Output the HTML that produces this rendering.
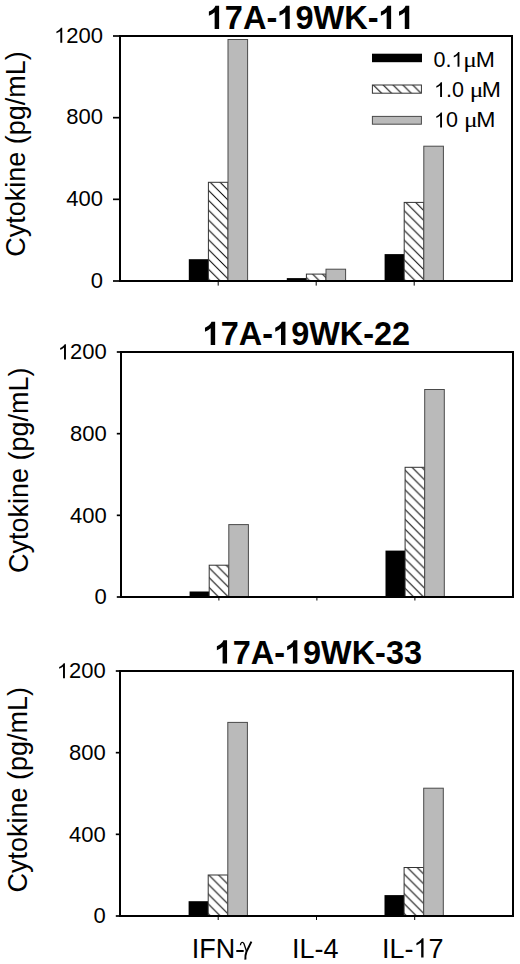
<!DOCTYPE html>
<html>
<head>
<meta charset="utf-8">
<style>
html,body{margin:0;padding:0;background:#fff;width:520px;height:964px;overflow:hidden;}
svg{display:block;}
text{font-family:"Liberation Sans",sans-serif;fill:#000;font-kerning:none;}
.t{font-weight:bold;font-size:32.6px;}
.t2{font-weight:bold;font-size:32.45px;}
.tk{font-size:22px;text-anchor:end;}
.yl{font-size:27px;}
.xl{font-size:27px;}
.lg{font-size:21.5px;}
.g{font-family:"Liberation Serif",serif;font-size:21.5px;}
.ax{fill:none;stroke:#000;stroke-width:2;}
.tick{stroke:#000;stroke-width:1.7;}
.xt{stroke:#000;stroke-width:1;}
.bk{fill:#000;}
.gr{fill:#bababa;stroke:#4a4a4a;stroke-width:1;}
.ht{fill:url(#hatch);stroke:#333;stroke-width:1;}
</style>
</head>
<body>
<svg width="520" height="964" viewBox="0 0 520 964">
<defs>
<pattern id="hatch" patternUnits="userSpaceOnUse" width="9.85" height="9.85">
<rect width="9.85" height="9.85" fill="#fff"/>
<path d="M-2,-2 L11.85,11.85 M-2,7.85 L2,11.85 M7.85,-2 L11.85,2" stroke="#000" stroke-width="1.0"/>
</pattern>
</defs>
<g transform="matrix(1,0,0,1.0412,0,-1.199)"><text class="t" x="224.82 242.95 266.47 295.45 313.57 344.34 367.86" y="29.10" style="text-anchor:start">7A-9WK-</text><path d="M780 0H499V1059Q345 915 137 846V1101Q246 1137 374 1236T550 1466H780V0Z" transform="matrix(0.015918,0,0,-0.015288,206.70,29.10)"/><path d="M780 0H499V1059Q345 915 137 846V1101Q246 1137 374 1236T550 1466H780V0Z" transform="matrix(0.015918,0,0,-0.015288,277.32,29.10)"/><path d="M780 0H499V1059Q345 915 137 846V1101Q246 1137 374 1236T550 1466H780V0Z" transform="matrix(0.015918,0,0,-0.015288,378.71,29.10)"/><path d="M780 0H499V1059Q345 915 137 846V1101Q246 1137 374 1236T550 1466H780V0Z" transform="matrix(0.015918,0,0,-0.015288,396.84,29.10)"/></g>
<text class="yl" transform="translate(25.3,256.8) rotate(-90) scale(1,1.0412)">Cytokine (pg/mL)</text>
<line class="tick" x1="113" y1="36.00" x2="120" y2="36.00"/>
<text class="tk" x="66.28 78.52 90.75" y="42.80" style="text-anchor:start">200</text><path d="M763 0H583V1147Q518 1085 412.5 1023T223 930V1104Q373 1175 485.5 1276T645 1472H763V0Z" transform="matrix(0.010742,0,0,-0.010282,54.05,42.80)"/>
<line class="tick" x1="113" y1="117.67" x2="120" y2="117.67"/>
<text class="tk" x="103" y="124.47">800</text>
<line class="tick" x1="113" y1="199.33" x2="120" y2="199.33"/>
<text class="tk" x="103" y="206.13">400</text>
<line class="tick" x1="113" y1="281.00" x2="120" y2="281.00"/>
<text class="tk" x="103" y="287.80">0</text>
<line class="xt" x1="218.2" y1="281" x2="218.2" y2="285.6"/>
<line class="xt" x1="316.2" y1="281" x2="316.2" y2="285.6"/>
<line class="xt" x1="414.2" y1="281" x2="414.2" y2="285.6"/>
<rect class="bk" x="188.80" y="259.20" width="19.6" height="21.80"/>
<g transform="translate(18.10,0)"><rect class="ht" x="190.30" y="182.30" width="19.60" height="98.70"/></g>
<rect class="gr" x="228.00" y="39.50" width="19.6" height="241.50"/>
<rect class="bk" x="286.80" y="278.10" width="19.6" height="2.90"/>
<g transform="translate(38.60,0)"><rect class="ht" x="267.80" y="274.10" width="19.60" height="6.90"/></g>
<rect class="gr" x="326.00" y="269.20" width="19.6" height="11.80"/>
<rect class="bk" x="384.60" y="254.10" width="19.6" height="26.90"/>
<g transform="translate(193.60,0)"><rect class="ht" x="210.60" y="202.40" width="19.60" height="78.60"/></g>
<rect class="gr" x="423.80" y="146.20" width="19.6" height="134.80"/>
<rect class="ax" x="120" y="36" width="392" height="245"/>
<rect class="bk" x="372" y="53.7" width="50" height="8.5"/>
<g transform="translate(288.40,0)"><rect class="ht" x="84.00" y="85.00" width="49.00" height="8.20"/></g>
<rect class="gr" x="372.4" y="116.4" width="49" height="7.8"/>
<text class="lg" x="433.50 445.45" y="66.80" style="text-anchor:start">0.</text><path d="M763 0H583V1147Q518 1085 412.5 1023T223 930V1104Q373 1175 485.5 1276T645 1472H763V0Z" transform="matrix(0.010498,0,0,-0.010049,451.42,66.80)"/><text class="g" x="463.3" y="66.8" transform="translate(463.3,0) scale(1.18,1) translate(-463.3,0)">μ</text><text class="lg" x="475.8" y="66.8" transform="translate(475.8,0) scale(1.07,1) translate(-475.8,0)">M</text>
<text class="lg" x="445.95 451.92" y="97.10" style="text-anchor:start">.0</text><path d="M763 0H583V1147Q518 1085 412.5 1023T223 930V1104Q373 1175 485.5 1276T645 1472H763V0Z" transform="matrix(0.010498,0,0,-0.010049,434.00,97.10)"/><text class="g" x="469.8" y="97.1" transform="translate(469.8,0) scale(1.18,1) translate(-469.8,0)">μ</text><text class="lg" x="481.8" y="97.1" transform="translate(481.8,0) scale(1.07,1) translate(-481.8,0)">M</text>
<text class="lg" x="445.95" y="127.40" style="text-anchor:start">0</text><path d="M763 0H583V1147Q518 1085 412.5 1023T223 930V1104Q373 1175 485.5 1276T645 1472H763V0Z" transform="matrix(0.010498,0,0,-0.010049,434.00,127.40)"/><text class="g" x="464.0" y="127.4" transform="translate(464.0,0) scale(1.18,1) translate(-464.0,0)">μ</text><text class="lg" x="476.3" y="127.4" transform="translate(476.3,0) scale(1.07,1) translate(-476.3,0)">M</text>
<g transform="matrix(1,0,0,1.0412,0,-14.218)"><text class="t2" x="220.83 238.86 262.30 291.13 309.16 339.78 363.21 374.00 392.05" y="345.10" style="text-anchor:start">7A-9WK-22</text><path d="M780 0H499V1059Q345 915 137 846V1101Q246 1137 374 1236T550 1466H780V0Z" transform="matrix(0.015845,0,0,-0.015218,202.80,345.10)"/><path d="M780 0H499V1059Q345 915 137 846V1101Q246 1137 374 1236T550 1466H780V0Z" transform="matrix(0.015845,0,0,-0.015218,273.09,345.10)"/></g>
<text class="yl" transform="translate(28.1,573) rotate(-90) scale(1,1.0412)">Cytokine (pg/mL)</text>
<line class="tick" x1="116.8" y1="352.00" x2="121" y2="352.00"/>
<text class="tk" x="69.98 82.22 94.45" y="359.40" style="text-anchor:start">200</text><path d="M763 0H583V1147Q518 1085 412.5 1023T223 930V1104Q373 1175 485.5 1276T645 1472H763V0Z" transform="matrix(0.010742,0,0,-0.010282,57.75,359.40)"/>
<line class="tick" x1="116.8" y1="433.67" x2="121" y2="433.67"/>
<text class="tk" x="106.7" y="441.07">800</text>
<line class="tick" x1="116.8" y1="515.33" x2="121" y2="515.33"/>
<text class="tk" x="106.7" y="522.73">400</text>
<line class="tick" x1="116.8" y1="597.00" x2="121" y2="597.00"/>
<text class="tk" x="106.7" y="604.40">0</text>
<line class="xt" x1="218.9" y1="597" x2="218.9" y2="600.5"/>
<line class="xt" x1="316.9" y1="597" x2="316.9" y2="600.5"/>
<line class="xt" x1="414.9" y1="597" x2="414.9" y2="600.5"/>
<rect class="bk" x="189.60" y="591.50" width="19.6" height="5.50"/>
<g transform="translate(-358.70,0)"><rect class="ht" x="567.90" y="565.20" width="19.60" height="31.80"/></g>
<rect class="gr" x="228.80" y="524.60" width="19.6" height="72.40"/>
<rect class="bk" x="385.50" y="550.60" width="19.6" height="46.40"/>
<g transform="translate(-65.10,0)"><rect class="ht" x="470.20" y="467.30" width="19.60" height="129.70"/></g>
<rect class="gr" x="424.70" y="389.50" width="19.6" height="207.50"/>
<rect class="ax" x="121" y="352" width="392" height="245"/>
<g transform="matrix(1,0,0,1.0412,0,-27.340)"><text class="t2" x="232.73 250.76 274.20 303.03 321.06 351.68 375.11 385.90 403.95" y="663.60" style="text-anchor:start">7A-9WK-33</text><path d="M780 0H499V1059Q345 915 137 846V1101Q246 1137 374 1236T550 1466H780V0Z" transform="matrix(0.015845,0,0,-0.015218,214.70,663.60)"/><path d="M780 0H499V1059Q345 915 137 846V1101Q246 1137 374 1236T550 1466H780V0Z" transform="matrix(0.015845,0,0,-0.015218,284.99,663.60)"/></g>
<text class="yl" transform="translate(27,892.5) rotate(-90) scale(1,1.0412)">Cytokine (pg/mL)</text>
<line class="tick" x1="115.8" y1="671.00" x2="120" y2="671.00"/>
<text class="tk" x="68.98 81.22 93.45" y="678.35" style="text-anchor:start">200</text><path d="M763 0H583V1147Q518 1085 412.5 1023T223 930V1104Q373 1175 485.5 1276T645 1472H763V0Z" transform="matrix(0.010742,0,0,-0.010282,56.75,678.35)"/>
<line class="tick" x1="115.8" y1="752.67" x2="120" y2="752.67"/>
<text class="tk" x="105.7" y="760.02">800</text>
<line class="tick" x1="115.8" y1="834.33" x2="120" y2="834.33"/>
<text class="tk" x="105.7" y="841.68">400</text>
<line class="tick" x1="115.8" y1="916.00" x2="120" y2="916.00"/>
<text class="tk" x="105.7" y="923.35">0</text>
<line class="xt" x1="218.2" y1="916" x2="218.2" y2="920"/>
<line class="xt" x1="316.5" y1="916" x2="316.5" y2="920"/>
<line class="xt" x1="414.7" y1="916" x2="414.7" y2="920"/>
<rect class="bk" x="188.60" y="901.20" width="19.6" height="14.80"/>
<g transform="translate(-676.00,0)"><rect class="ht" x="884.20" y="875.00" width="19.60" height="41.00"/></g>
<rect class="gr" x="227.80" y="722.40" width="19.6" height="193.60"/>
<rect class="bk" x="384.50" y="895.10" width="19.6" height="20.90"/>
<g transform="translate(-470.00,0)"><rect class="ht" x="874.10" y="867.50" width="19.60" height="48.50"/></g>
<rect class="gr" x="423.70" y="788.20" width="19.6" height="127.80"/>
<rect class="ax" x="120" y="671" width="393" height="245"/>
<g transform="matrix(1,0,0,1.0412,0,-39.453)"><text class="xl" x="191.7" y="957.6">IFN</text></g>
<line x1="236.3" y1="951" x2="243.7" y2="951" stroke="#000" stroke-width="2"/>
<path d="M240.4,945.2 C240.6,942.6 242.6,941.2 243.9,943.6 L246.6,951.5" fill="none" stroke="#000" stroke-width="1.3"/>
<path d="M251.4,941.6 L246.4,951.8 C245.6,953.8 245.2,956.5 245.4,959.6" fill="none" stroke="#000" stroke-width="2"/>
<g transform="matrix(1,0,0,1.0412,0,-39.453)"><text class="xl" x="292" y="957.6">IL-4</text></g>
<g transform="matrix(1,0,0,1.0412,0,-39.453)"><text class="xl" x="382.00 389.48 404.50 428.49" y="957.60" style="text-anchor:start">IL-7</text><path d="M763 0H583V1147Q518 1085 412.5 1023T223 930V1104Q373 1175 485.5 1276T645 1472H763V0Z" transform="matrix(0.013184,0,0,-0.012662,413.49,957.60)"/></g>
</svg>
</body>
</html>
